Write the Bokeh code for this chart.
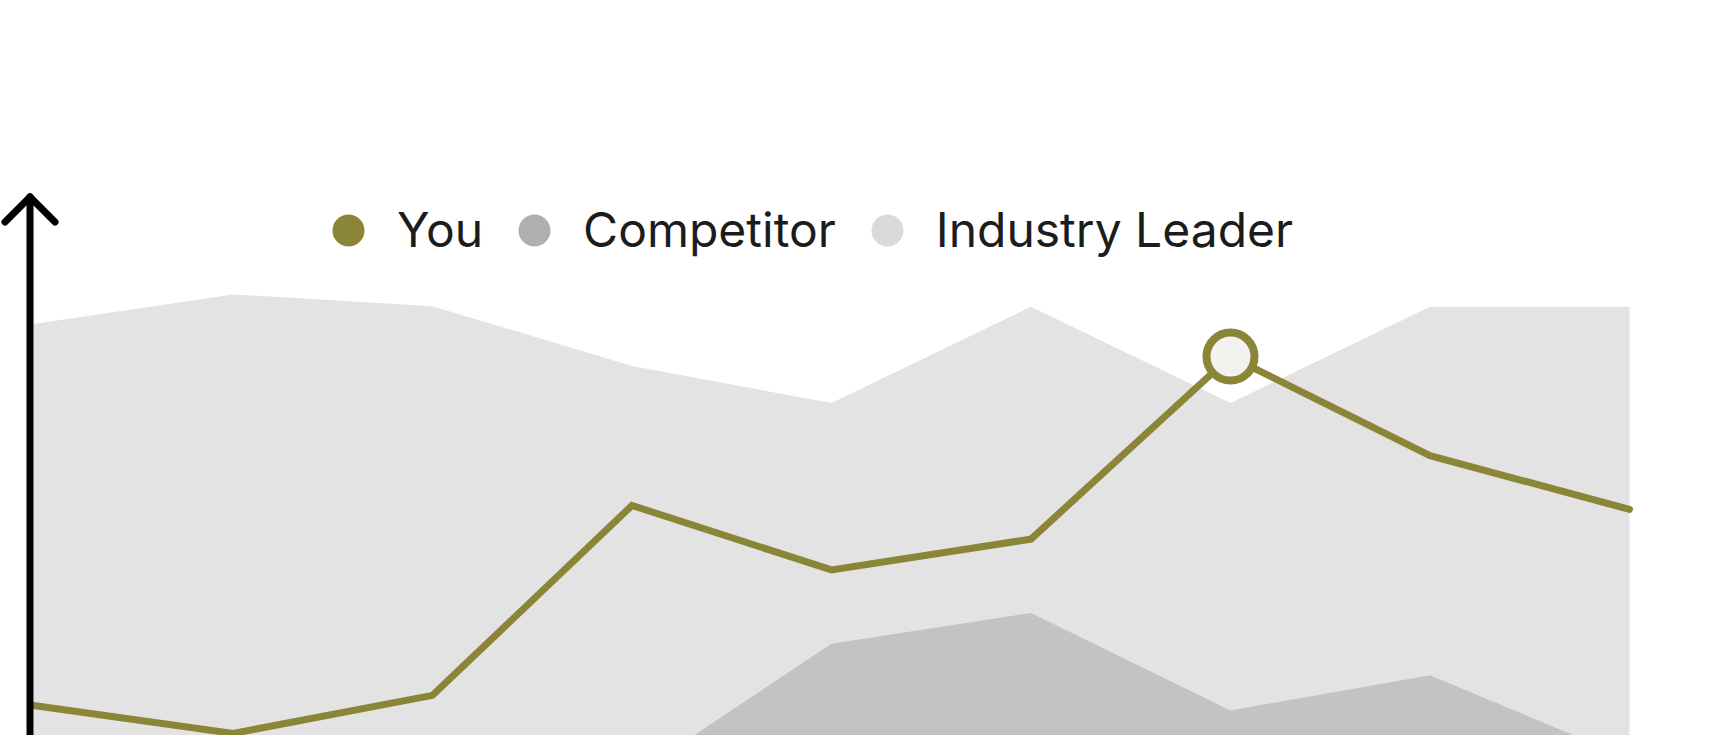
from bokeh.plotting import figure
from bokeh.models import Range1d, Legend, LegendItem, ColumnDataSource
from bokeh.embed import file_html
from bokeh.resources import INLINE

# ---------------- data ----------------
periods = list(range(9))
you = [26.8, 21.8, 28.6, 62.5, 51.0, 56.5, 89.1, 71.4, 61.8]
competitor = [8.0, 5.5, 11.0, 14.1, 37.8, 43.3, 25.9, 32.2, 17.3]
industry_leader = [94.9, 100.2, 98.1, 87.4, 80.8, 98.0, 80.8, 98.0, 98.0]
series_names = ["You", "Competitor", "Industry Leader"]
highlight_index = 6

# ---------------- style ----------------
OLIVE = "#8A8537"
COMP_AREA = "#C3C3C3"
COMP_DOT = "#B0B0B0"
IND_AREA = "#E3E3E3"
IND_DOT = "#DADADA"
MARK_FILL = "#F2F2EE"
TEXT = "#1c1c1c"

# ---------------- layout ----------------
W, H = 1734, 735
X_PX0, X_STEP = 33.0, 199.5          # px position of first period, px per period
Y_ZERO_PX, Y_PX_PER_UNIT = 855.0, 5.6  # px of value 0 (below view), px per unit

x_range = Range1d(-X_PX0 / X_STEP, (W - X_PX0) / X_STEP)
y_range = Range1d((Y_ZERO_PX - H) / Y_PX_PER_UNIT, Y_ZERO_PX / Y_PX_PER_UNIT)

p = figure(width=W, height=H, x_range=x_range, y_range=y_range,
           x_axis_type=None, y_axis_type=None, toolbar_location=None,
           output_backend="svg", min_border=0)
p.outline_line_color = None
p.background_fill_color = "white"
p.border_fill_color = "white"
p.grid.visible = False

# areas
p.varea(x=periods, y1=[0] * len(periods), y2=industry_leader, fill_color=IND_AREA)
p.varea(x=periods, y1=[0] * len(periods), y2=competitor, fill_color=COMP_AREA)

# "You" line
p.line(x=periods, y=you, line_color=OLIVE, line_width=7,
       line_cap="round", line_join="miter")

# highlighted point
p.scatter(x=[periods[highlight_index]], y=[you[highlight_index]], marker="circle",
          size=48, fill_color=MARK_FILL, line_color=OLIVE, line_width=8)

# y axis with open arrow head
AX_PX = 29.5
TIP_PX = 196.5
WING_DX_PX, WING_DY_PX = 25.0, 25.0
ax = (AX_PX - X_PX0) / X_STEP
tip = (Y_ZERO_PX - TIP_PX) / Y_PX_PER_UNIT
wdx = WING_DX_PX / X_STEP
wdy = WING_DY_PX / Y_PX_PER_UNIT
p.segment(x0=[ax, ax, ax], y0=[0, tip, tip],
          x1=[ax, ax - wdx, ax + wdx], y1=[tip, tip - wdy, tip - wdy],
          line_color="black", line_width=7, line_cap="round")

# legend (swatch renderers hold no drawable point)
nan = float("nan")
dot_colors = [OLIVE, COMP_DOT, IND_DOT]
items = []
for name, c in zip(series_names, dot_colors):
    src = ColumnDataSource(dict(x=[nan], y=[nan]))
    r = p.scatter("x", "y", source=src, marker="circle", fill_color=c, line_color=None)
    items.append(LegendItem(label=name, renderers=[r]))

legend = Legend(items=items, location=(308, 465.5), orientation="horizontal",
                glyph_width=80, glyph_height=80, label_standoff=9, spacing=11,
                padding=0, margin=0, border_line_color=None, background_fill_alpha=0,
                label_text_font="Inter", label_text_font_size="48px",
                label_text_color=TEXT)
p.add_layout(legend)

open("out.html", "w").write(file_html(p, INLINE))
